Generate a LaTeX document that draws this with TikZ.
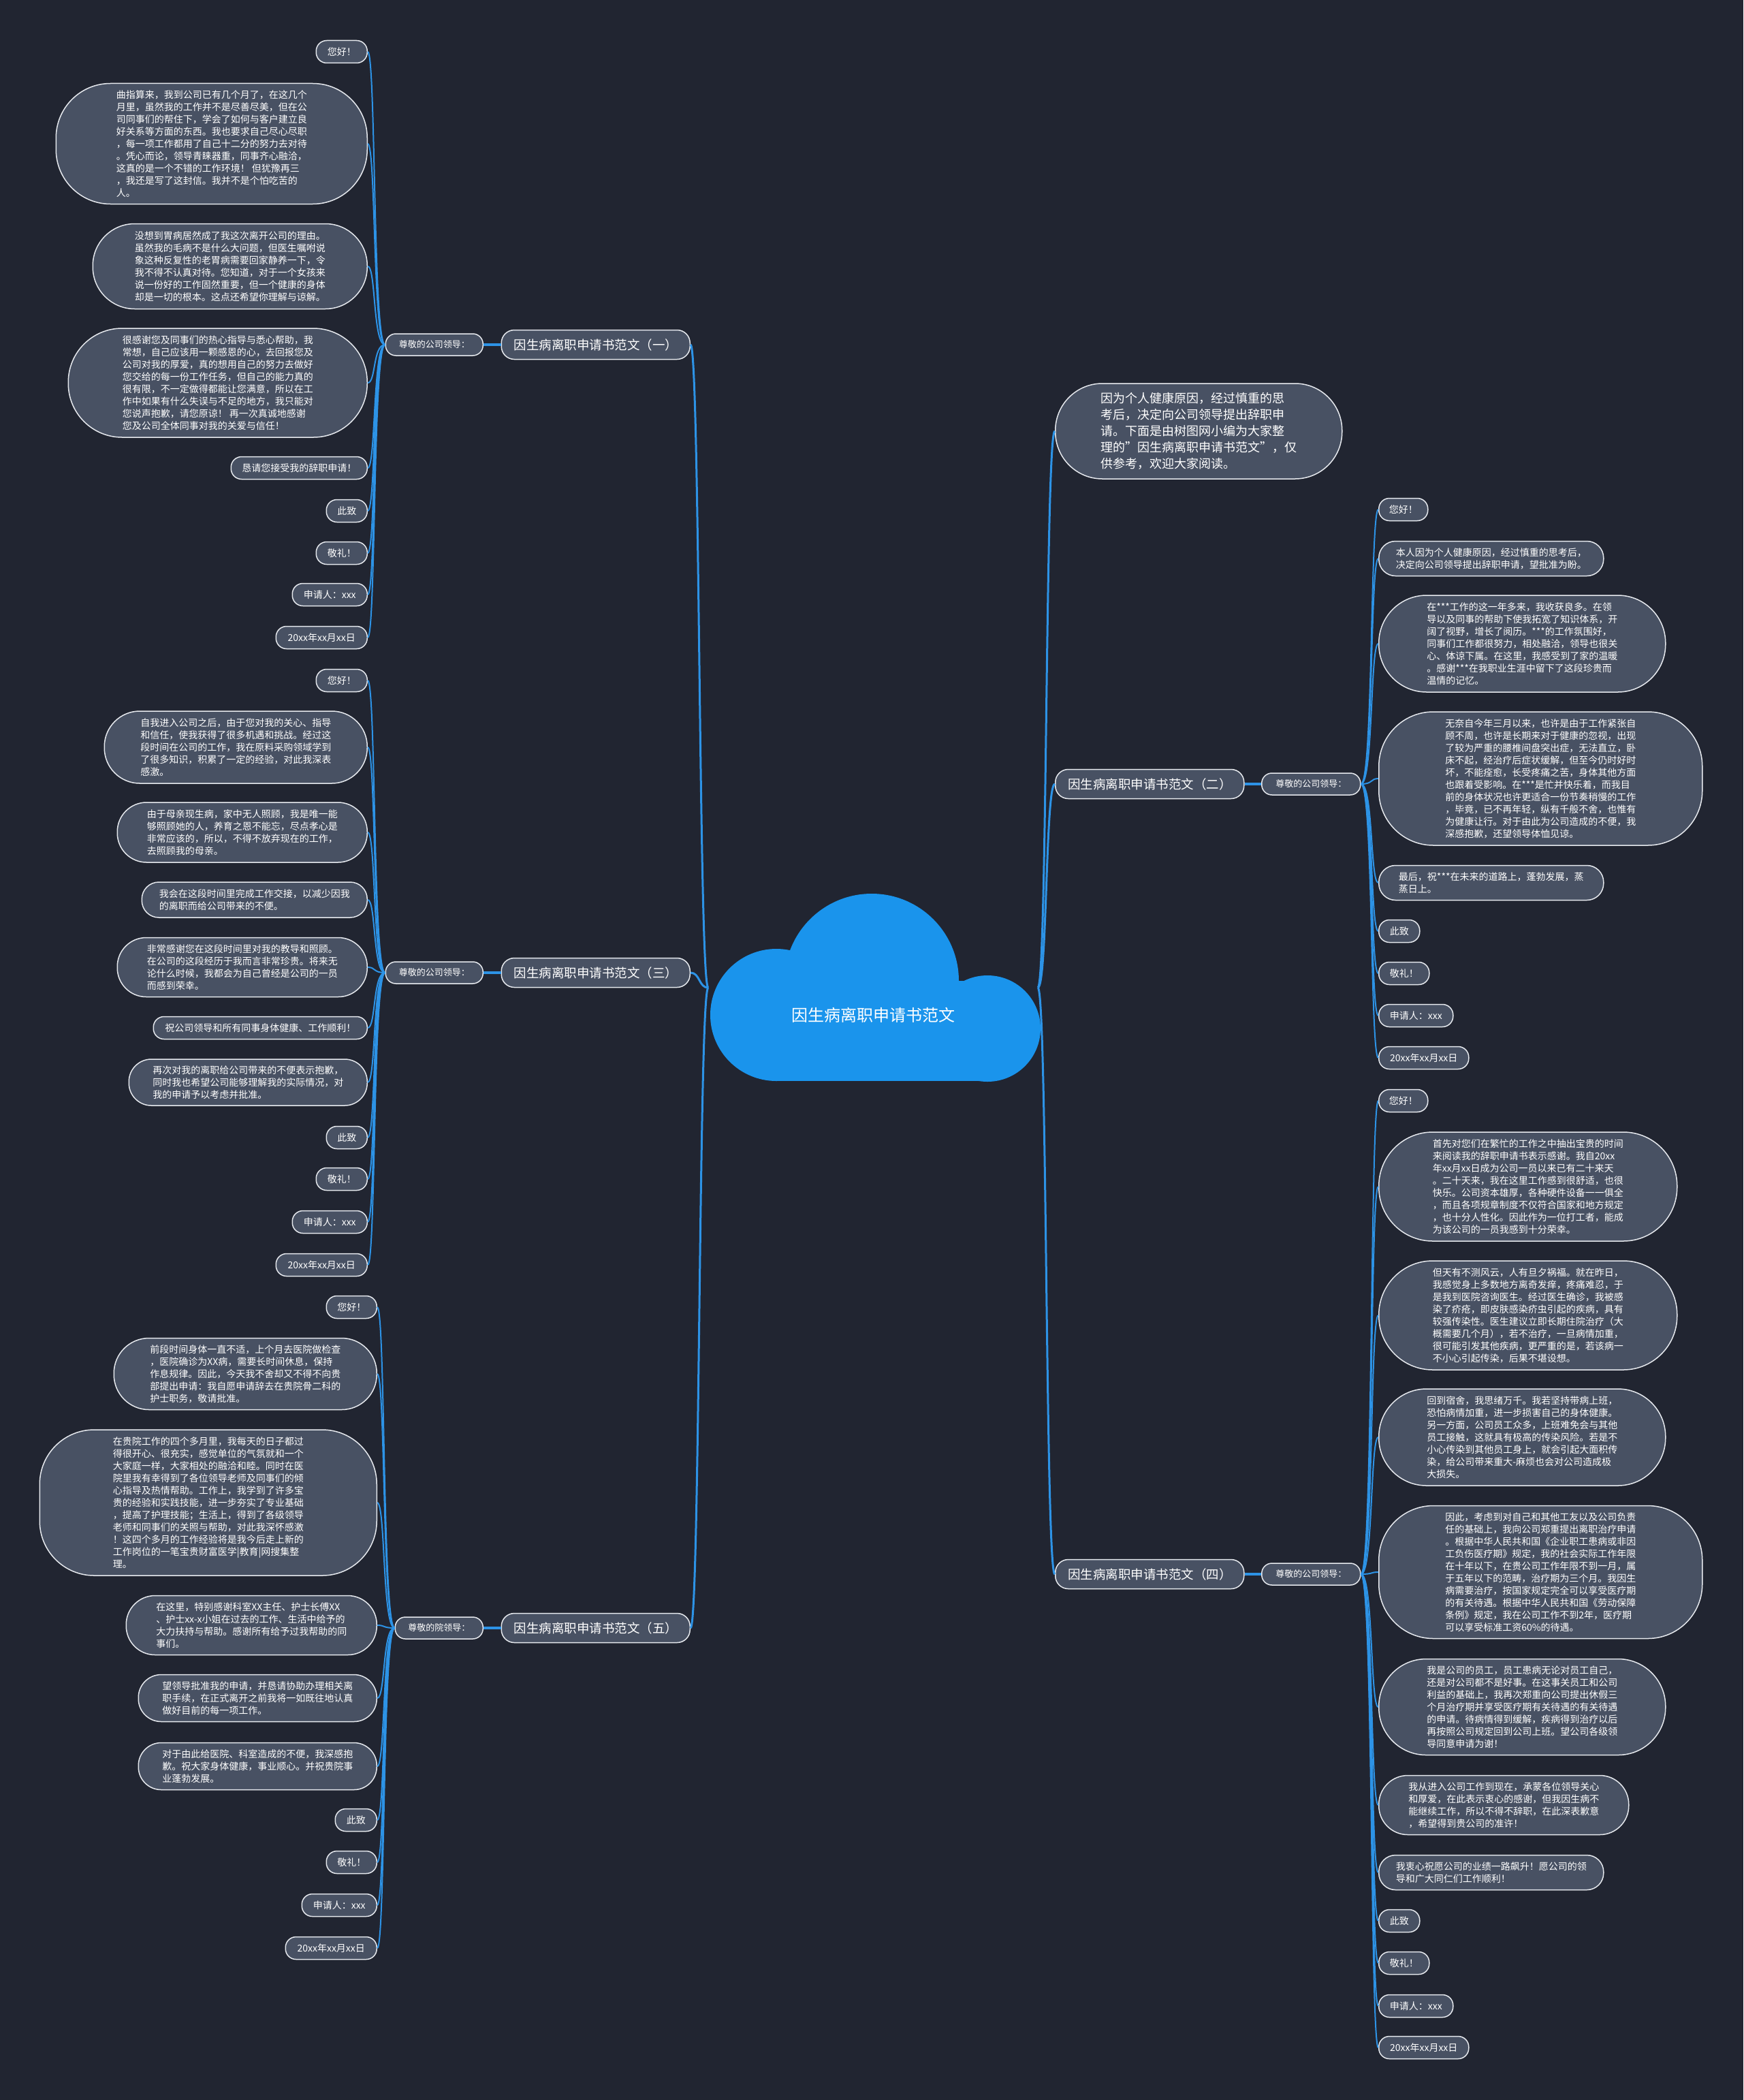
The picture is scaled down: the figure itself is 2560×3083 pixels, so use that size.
\documentclass[tikz,border=0pt]{standalone}
\usepackage{fontspec}
\setmainfont{Noto Sans CJK SC}
\usepackage{xcolor}
\definecolor{mmBg}{HTML}{212531}
\definecolor{mmBox}{HTML}{485163}
\definecolor{mmEdge}{HTML}{E6E9EE}
\definecolor{mmLine}{HTML}{2D93E6}
\definecolor{mmCloud}{HTML}{1A94EC}
\tikzset{
    % boxes
    leaf/.style 2 args={draw=mmEdge, fill=mmBox, line width=1.5pt, text=white, inner sep=0pt,
        minimum width=#1pt, minimum height=#2pt, rounded corners={min(#2/2-1,80)*1pt},
        align=left, font=\fontsize{14}{18}\selectfont},
    tag/.style={leaf={#1}{33}},
    branch/.style={draw=mmEdge, fill=mmBox, line width=1.5pt, text=white, inner sep=0pt,
        minimum width=277pt, minimum height=43pt, rounded corners=19pt, font=\fontsize{18.5}{22}\selectfont},
    hub/.style={draw=mmEdge, fill=mmBox, line width=1.5pt, text=white, inner sep=0pt,
        minimum width=#1pt, minimum height=32pt, rounded corners=15pt, font=\fontsize{13}{16}\selectfont},
    % connectors
    limb/.style={draw=mmLine, line width=3pt},
    stem/.style={draw=mmLine, line width=4pt},
    twig/.style={draw=mmLine, line width=2pt}
}
\begin{document}
\begin{tikzpicture}[x=1pt, y=-1pt]

    \useasboundingbox (0,0) rectangle (2560,3083);
    \fill[mmBg] (0,0) rectangle (2560,3083);

    % Center
    \fill[mmCloud] (1140,1490) circle[radius=97pt];
    \fill[mmCloud] (1280,1440) circle[radius=128pt];
    \fill[mmCloud] (1450,1510) circle[radius=78pt];
    \fill[mmCloud] (1140,1440) rectangle (1450,1587);
    \node[font=\fontsize{24}{28}\selectfont, text=white] (root) at (1282,1490) {因生病离职申请书范文};
    \coordinate (rootL) at (1040,1450);
    \coordinate (rootR) at (1524,1450);

    % Branch one
    \node[branch, anchor=east] (main1) at (1014,506) {因生病离职申请书范文（一）};
    \node[hub=143, anchor=east] (lead1) at (710,506) {尊敬的公司领导：};
    \node[tag=75, anchor=east] (hello1) at (540,76) {您好！};
    \node[leaf={457}{177}, anchor=east] (para1a) at (540,211) {曲指算来，我到公司已有几个月了，在这几个\\月里，虽然我的工作并不是尽善尽美，但在公\\司同事们的帮住下，学会了如何与客户建立良\\好关系等方面的东西。我也要求自己尽心尽职\\，每一项工作都用了自己十二分的努力去对待\\。凭心而论，领导青睐器重，同事齐心融洽，\\这真的是一个不错的工作环境！ 但犹豫再三\\，我还是写了这封信。我并不是个怕吃苦的\\人。};
    \node[leaf={403}{125}, anchor=east] (para1b) at (540,391) {没想到胃病居然成了我这次离开公司的理由。\\虽然我的毛病不是什么大问题，但医生嘱咐说\\象这种反复性的老胃病需要回家静养一下，令\\我不得不认真对待。您知道，对于一个女孩来\\说一份好的工作固然重要，但一个健康的身体\\却是一切的根本。这点还希望你理解与谅解。};
    \node[leaf={439}{160}, anchor=east] (para1c) at (540,562) {很感谢您及同事们的热心指导与悉心帮助，我\\常想，自己应该用一颗感恩的心，去回报您及\\公司对我的厚爱，真的想用自己的努力去做好\\您交给的每一份工作任务，但自己的能力真的\\很有限，不一定做得都能让您满意，所以在工\\作中如果有什么失误与不足的地方，我只能对\\您说声抱歉，请您原谅！ 再一次真诚地感谢\\您及公司全体同事对我的关爱与信任！};
    \node[tag=200, anchor=east] (ask1) at (540,687) {恳请您接受我的辞职申请！};
    \node[tag=60, anchor=east] (zhi1) at (540,750) {此致};
    \node[tag=75, anchor=east] (li1) at (540,812) {敬礼！};
    \node[tag=110, anchor=east] (who1) at (540,873) {申请人：xxx};
    \node[tag=134, anchor=east] (date1) at (540,936) {20xx年xx月xx日};

    % Branch three
    \node[branch, anchor=east] (main3) at (1014,1428) {因生病离职申请书范文（三）};
    \node[hub=143, anchor=east] (lead3) at (710,1428) {尊敬的公司领导：};
    \node[tag=75, anchor=east] (hello3) at (540,999) {您好！};
    \node[leaf={386}{106}, anchor=east] (para3a) at (540,1097) {自我进入公司之后，由于您对我的关心、指导\\和信任，使我获得了很多机遇和挑战。经过这\\段时间在公司的工作，我在原料采购领域学到\\了很多知识，积累了一定的经验，对此我深表\\感激。};
    \node[leaf={367}{88}, anchor=east] (para3b) at (540,1222) {由于母亲现生病，家中无人照顾，我是唯一能\\够照顾她的人，养育之恩不能忘，尽点孝心是\\非常应该的，所以，不得不放弃现在的工作，\\去照顾我的母亲。};
    \node[leaf={331}{52}, anchor=east] (para3c) at (540,1321) {我会在这段时间里完成工作交接，以减少因我\\的离职而给公司带来的不便。};
    \node[leaf={367}{87}, anchor=east] (para3d) at (540,1420) {非常感谢您在这段时间里对我的教导和照顾。\\在公司的这段经历于我而言非常珍贵。将来无\\论什么时候，我都会为自己曾经是公司的一员\\而感到荣幸。};
    \node[tag=314, anchor=east] (wish3) at (540,1509) {祝公司领导和所有同事身体健康、工作顺利！};
    \node[leaf={350}{68}, anchor=east] (para3e) at (540,1589) {再次对我的离职给公司带来的不便表示抱歉，\\同时我也希望公司能够理解我的实际情况，对\\我的申请予以考虑并批准。};
    \node[tag=60, anchor=east] (zhi3) at (540,1670) {此致};
    \node[tag=75, anchor=east] (li3) at (540,1731) {敬礼！};
    \node[tag=110, anchor=east] (who3) at (540,1794) {申请人：xxx};
    \node[tag=134, anchor=east] (date3) at (540,1857) {20xx年xx月xx日};

    % Branch five
    \node[branch, anchor=east] (main5) at (1014,2390) {因生病离职申请书范文（五）};
    \node[hub=129, anchor=east] (lead5) at (710,2390) {尊敬的院领导：};
    \node[tag=74, anchor=east] (hello5) at (554,1919) {您好！};
    \node[leaf={386}{105}, anchor=east] (para5a) at (554,2017) {前段时间身体一直不适，上个月去医院做检查\\，医院确诊为XX病，需要长时间休息，保持\\作息规律。因此，今天我不舍却又不得不向贵\\部提出申请：我自愿申请辞去在贵院骨二科的\\护士职务，敬请批准。};
    \node[leaf={495}{214}, anchor=east] (para5b) at (554,2206) {在贵院工作的四个多月里，我每天的日子都过\\得很开心、很充实，感觉单位的气氛就和一个\\大家庭一样，大家相处的融洽和睦。同时在医\\院里我有幸得到了各位领导老师及同事们的倾\\心指导及热情帮助。工作上，我学到了许多宝\\贵的经验和实践技能，进一步夯实了专业基础\\，提高了护理技能；生活上，得到了各级领导\\老师和同事们的关照与帮助，对此我深怀感激\\！这四个多月的工作经验将是我今后走上新的\\工作岗位的一笔宝贵财富医学|教育|网搜集整\\理。};
    \node[leaf={368}{87}, anchor=east] (para5c) at (554,2386) {在这里，特别感谢科室XX主任、护士长傅XX\\、护士xx-x小姐在过去的工作、生活中给予的\\大力扶持与帮助。感谢所有给予过我帮助的同\\事们。};
    \node[leaf={350}{69}, anchor=east] (para5d) at (554,2493) {望领导批准我的申请，并恳请协助办理相关离\\职手续，在正式离开之前我将一如既往地认真\\做好目前的每一项工作。};
    \node[leaf={350}{69}, anchor=east] (para5e) at (554,2593) {对于由此给医院、科室造成的不便，我深感抱\\歉。祝大家身体健康，事业顺心。并祝贵院事\\业蓬勃发展。};
    \node[tag=61, anchor=east] (zhi5) at (554,2672) {此致};
    \node[tag=74, anchor=east] (li5) at (554,2734) {敬礼！};
    \node[tag=110, anchor=east] (who5) at (554,2797) {申请人：xxx};
    \node[tag=134, anchor=east] (date5) at (554,2860) {20xx年xx月xx日};

    % Intro
    \node[leaf={421}{140}, anchor=west, font=\fontsize{18}{24}\selectfont] (intro) at (1549,633) {因为个人健康原因，经过慎重的思\\考后，决定向公司领导提出辞职申\\请。下面是由树图网小编为大家整\\理的"因生病离职申请书范文"，仅\\供参考，欢迎大家阅读。};

    % Branch two
    \node[branch, anchor=west] (main2) at (1549,1151) {因生病离职申请书范文（二）};
    \node[hub=145, anchor=west] (lead2) at (1852,1151) {尊敬的公司领导：};
    \node[tag=72, anchor=west] (hello2) at (2024,748) {您好！};
    \node[leaf={330}{51}, anchor=west] (para2a) at (2024,820) {本人因为个人健康原因，经过慎重的思考后，\\决定向公司领导提出辞职申请，望批准为盼。};
    \node[leaf={421}{142}, anchor=west] (para2b) at (2024,945) {在***工作的这一年多来，我收获良多。在领\\导以及同事的帮助下使我拓宽了知识体系，开\\阔了视野，增长了阅历。***的工作氛围好，\\同事们工作都很努力，相处融洽，领导也很关\\心、体谅下属。在这里，我感受到了家的温暖\\。感谢***在我职业生涯中留下了这段珍贵而\\温情的记忆。};
    \node[leaf={475}{196}, anchor=west] (para2c) at (2024,1143) {无奈自今年三月以来，也许是由于工作紧张自\\顾不周，也许是长期来对于健康的忽视，出现\\了较为严重的腰椎间盘突出症，无法直立，卧\\床不起，经治疗后症状缓解，但至今仍时好时\\坏，不能痊愈，长受疼痛之苦，身体其他方面\\也跟着受影响。在***是忙并快乐着，而我目\\前的身体状况也许更适合一份节奏稍慢的工作\\，毕竟，已不再年轻，纵有千般不舍，也惟有\\为健康让行。对于由此为公司造成的不便，我\\深感抱歉，还望领导体恤见谅。};
    \node[leaf={330}{51}, anchor=west] (para2d) at (2024,1296) {最后，祝***在未来的道路上，蓬勃发展，蒸\\蒸日上。};
    \node[tag=60, anchor=west] (zhi2) at (2024,1367) {此致};
    \node[tag=74, anchor=west] (li2) at (2024,1429) {敬礼！};
    \node[tag=109, anchor=west] (who2) at (2024,1491) {申请人：xxx};
    \node[tag=132, anchor=west] (date2) at (2024,1553) {20xx年xx月xx日};

    % Branch four
    \node[branch, anchor=west] (main4) at (1549,2311) {因生病离职申请书范文（四）};
    \node[hub=145, anchor=west] (lead4) at (1852,2311) {尊敬的公司领导：};
    \node[tag=72, anchor=west] (hello4) at (2024,1616) {您好！};
    \node[leaf={438}{160}, anchor=west] (para4a) at (2024,1742) {首先对您们在繁忙的工作之中抽出宝贵的时间\\来阅读我的辞职申请书表示感谢。我自20xx\\年xx月xx日成为公司一员以来已有二十来天\\。二十天来，我在这里工作感到很舒适，也很\\快乐。公司资本雄厚，各种硬件设备一一俱全\\，而且各项规章制度不仅符合国家和地方规定\\，也十分人性化。因此作为一位打工者，能成\\为该公司的一员我感到十分荣幸。};
    \node[leaf={438}{160}, anchor=west] (para4b) at (2024,1931) {但天有不测风云，人有旦夕祸福。就在昨日，\\我感觉身上多数地方离奇发痒，疼痛难忍，于\\是我到医院咨询医生。经过医生确诊，我被感\\染了疥疮，即皮肤感染疥虫引起的疾病，具有\\较强传染性。医生建议立即长期住院治疗（大\\概需要几个月），若不治疗，一旦病情加重，\\很可能引发其他疾病，更严重的是，若该病一\\不小心引起传染，后果不堪设想。};
    \node[leaf={421}{142}, anchor=west] (para4c) at (2024,2110) {回到宿舍，我思绪万千。我若坚持带病上班，\\恐怕病情加重，进一步损害自己的身体健康。\\另一方面，公司员工众多，上班难免会与其他\\员工接触，这就具有极高的传染风险。若是不\\小心传染到其他员工身上，就会引起大面积传\\染，给公司带来重大-麻烦也会对公司造成极\\大损失。};
    \node[leaf={475}{195}, anchor=west] (para4d) at (2024,2308) {因此，考虑到对自己和其他工友以及公司负责\\任的基础上，我向公司郑重提出离职治疗申请\\。根据中华人民共和国《企业职工患病或非因\\工负伤医疗期》规定，我的社会实际工作年限\\在十年以下，在贵公司工作年限不到一月，属\\于五年以下的范畴，治疗期为三个月。我因生\\病需要治疗，按国家规定完全可以享受医疗期\\的有关待遇。根据中华人民共和国《劳动保障\\条例》规定，我在公司工作不到2年，医疗期\\可以享受标准工资60\%的待遇。};
    \node[leaf={421}{141}, anchor=west] (para4e) at (2024,2506) {我是公司的员工，员工患病无论对员工自己，\\还是对公司都不是好事。在这事关员工和公司\\利益的基础上，我再次郑重向公司提出休假三\\个月治疗期并享受医疗期有关待遇的有关待遇\\的申请。待病情得到缓解，疾病得到治疗以后\\再按照公司规定回到公司上班。望公司各级领\\导同意申请为谢！};
    \node[leaf={367}{87}, anchor=west] (para4f) at (2024,2650) {我从进入公司工作到现在，承蒙各位领导关心\\和厚爱，在此表示衷心的感谢，但我因生病不\\能继续工作，所以不得不辞职，在此深表歉意\\，希望得到贵公司的准许！};
    \node[leaf={330}{51}, anchor=west] (para4g) at (2024,2749) {我衷心祝愿公司的业绩一路飙升！愿公司的领\\导和广大同仁们工作顺利！};
    \node[tag=60, anchor=west] (zhi4) at (2024,2820) {此致};
    \node[tag=74, anchor=west] (li4) at (2024,2882) {敬礼！};
    \node[tag=109, anchor=west] (who4) at (2024,2945) {申请人：xxx};
    \node[tag=132, anchor=west] (date4) at (2024,3006) {20xx年xx月xx日};

    % Connections
    \draw[limb] (rootL) .. controls +(-14,0) and +(14,0) .. (main1.east);
    \draw[limb] (rootL) .. controls +(-14,0) and +(14,0) .. (main3.east);
    \draw[limb] (rootL) .. controls +(-14,0) and +(14,0) .. (main5.east);
    \draw[limb] (rootR) .. controls +(14,0) and +(-14,0) .. (intro.west);
    \draw[limb] (rootR) .. controls +(14,0) and +(-14,0) .. (main2.west);
    \draw[limb] (rootR) .. controls +(14,0) and +(-14,0) .. (main4.west);
    \draw[stem] (main1.west) -- (lead1.east);
    \draw[stem] (main3.west) -- (lead3.east);
    \draw[stem] (main5.west) -- (lead5.east);
    \draw[stem] (main2.east) -- (lead2.west);
    \draw[stem] (main4.east) -- (lead4.west);
    \foreach \n in {hello1,para1a,para1b,para1c,ask1,zhi1,li1,who1,date1}
        \draw[twig] (lead1.west) .. controls +(-18,0) and +(12,0) .. (\n.east);
    \foreach \n in {hello3,para3a,para3b,para3c,para3d,wish3,para3e,zhi3,li3,who3,date3}
        \draw[twig] (lead3.west) .. controls +(-18,0) and +(12,0) .. (\n.east);
    \foreach \n in {hello5,para5a,para5b,para5c,para5d,para5e,zhi5,li5,who5,date5}
        \draw[twig] (lead5.west) .. controls +(-18,0) and +(12,0) .. (\n.east);
    \foreach \n in {hello2,para2a,para2b,para2c,para2d,zhi2,li2,who2,date2}
        \draw[twig] (lead2.east) .. controls +(18,0) and +(-12,0) .. (\n.west);
    \foreach \n in {hello4,para4a,para4b,para4c,para4d,para4e,para4f,para4g,zhi4,li4,who4,date4}
        \draw[twig] (lead4.east) .. controls +(18,0) and +(-12,0) .. (\n.west);

\end{tikzpicture}
\end{document}
